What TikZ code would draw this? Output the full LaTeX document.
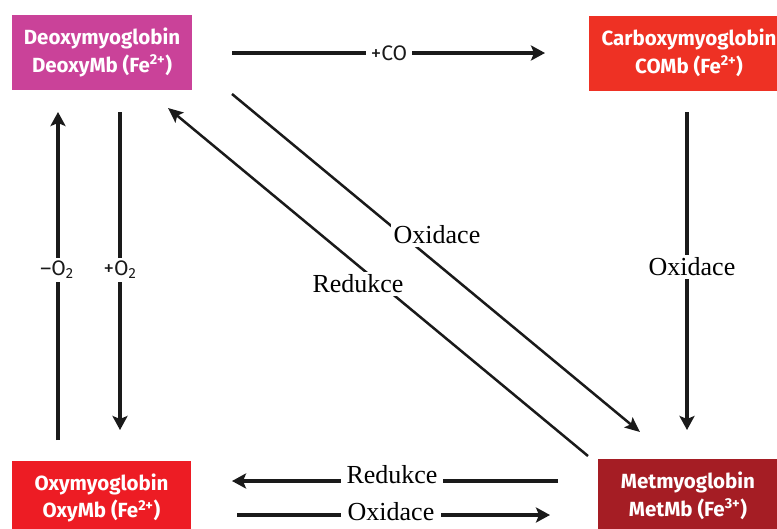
\documentclass[tikz,border=0pt]{standalone}
\usepackage{fontspec}
\setmainfont{Liberation Serif}
\newfontfamily\boxfont{Fira Sans}
\usetikzlibrary{arrows.meta}
\definecolor{deoxycol}{HTML}{CA4299}
\definecolor{carboxycol}{HTML}{EE3124}
\definecolor{oxycol}{HTML}{ED1C24}
\definecolor{metcol}{HTML}{A51D24}
\definecolor{inkcol}{HTML}{1A1A1A}
\begin{document}
\begin{tikzpicture}[x=1pt,y=-1pt,
  mbox/.style={fill=#1, text=white, font=\boxfont\bfseries\fontsize{20.5}{27.5}\selectfont,
    align=center, minimum height=75pt, inner sep=0pt},
  thickarr/.style={draw=inkcol, line width=4pt, -{Stealth[length=14pt,width=15pt,inset=3pt]}},
  thinarr/.style={draw=inkcol, line width=2.5pt, -{Stealth[length=15pt,width=13pt,inset=3pt]}},
  sanslbl/.style={fill=white, text=inkcol, font=\boxfont\fontsize{21}{23}\selectfont, inner sep=3pt},
  seriflbl/.style={fill=white, text=black, font=\fontsize{26}{28}\selectfont, inner sep=3pt}]
\useasboundingbox (0,0) rectangle (777,528);
\clip (0,0) rectangle (777,528);
\fill[white] (0,0) rectangle (777,528);
% boxes
\node[mbox=deoxycol, minimum width=180pt] (deoxy) at (102,52.5) {Deoxymyoglobin\\DeoxyMb (Fe\textsuperscript{2+})};
\node[mbox=carboxycol, minimum width=200pt] (carboxy) at (689,53) {Carboxymyoglobin\\COMb (Fe\textsuperscript{2+})};
\node[mbox=oxycol, minimum width=179pt] (oxy) at (101.5,498) {Oxymyoglobin\\OxyMb (Fe\textsuperscript{2+})};
\node[mbox=metcol, minimum width=180pt] (met) at (688,496) {Metmyoglobin\\MetMb (Fe\textsuperscript{3+})};
% connector ends
\coordinate (coA) at (232,53);
\coordinate (coB) at (545,53);
\coordinate (upA) at (58,440);
\coordinate (upB) at (58,112);
\coordinate (dnA) at (120,112);
\coordinate (dnB) at (120,430);
\coordinate (rA) at (687,112);
\coordinate (rB) at (687,430);
\coordinate (dOA) at (232,94);
\coordinate (dOB) at (640,432);
\coordinate (dRA) at (588,456);
\coordinate (dRB) at (168,108);
\coordinate (bRA) at (558,481);
\coordinate (bRB) at (232,481);
\coordinate (bOA) at (237,515);
\coordinate (bOB) at (550,515);
% connectors
\draw[thickarr] (coA) -- (coB);
\node[sanslbl, inner xsep=5pt] (lco) at (389,53) {+CO};
\draw[thickarr] (upA) -- (upB);
\node[sanslbl] (lmo) at (57,270) {–O\textsubscript{2}};
\draw[thickarr] (dnA) -- (dnB);
\node[sanslbl] (lpo) at (120,270) {+O\textsubscript{2}};
\draw[thickarr] (rA) -- (rB);
\node[seriflbl] (lro) at (692,267) {Oxidace};
\draw[thinarr] (dOA) -- (dOB);
\node[seriflbl] (ldo) at (437,235) {Oxidace};
\draw[thinarr] (dRA) -- (dRB);
\node[seriflbl] (ldr) at (358,284) {Redukce};
\draw[thickarr] (bRA) -- (bRB);
\node[seriflbl, inner xsep=6pt] (lbr) at (392,475) {Redukce};
\draw[thickarr] (bOA) -- (bOB);
\node[seriflbl, inner xsep=7pt] (lbo) at (391,512) {Oxidace};
\end{tikzpicture}
\end{document}
